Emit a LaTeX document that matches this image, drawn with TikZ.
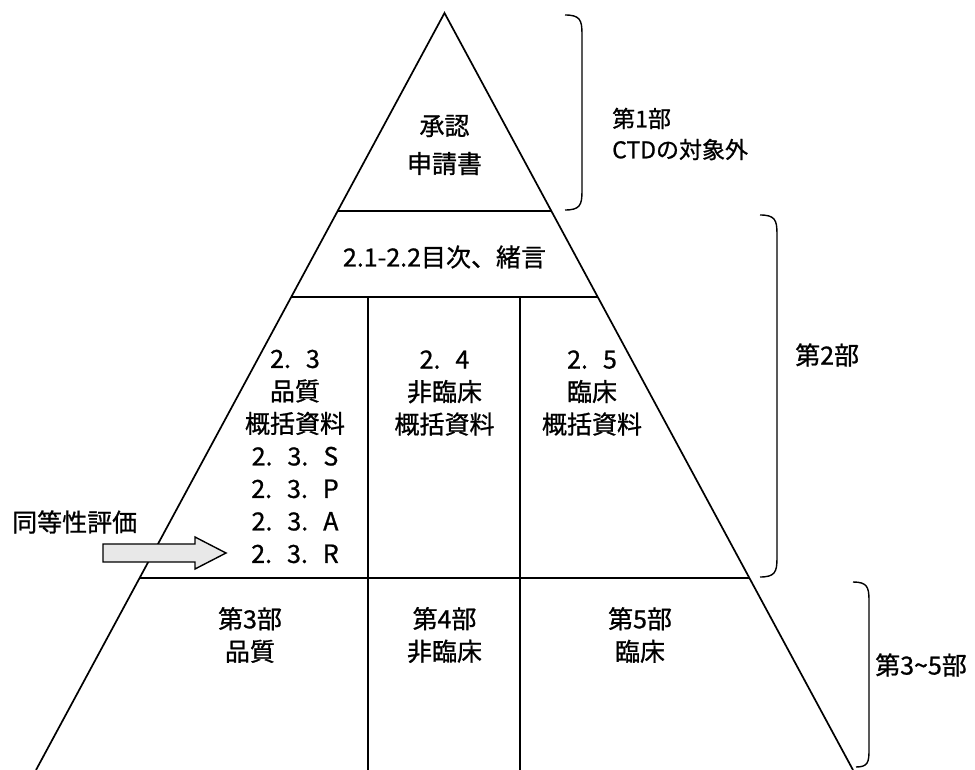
\documentclass[tikz,border=0pt]{standalone}
\usepackage{fontspec}
\setmainfont{Noto Sans CJK JP}[FakeBold=0.9]
\usetikzlibrary{calc}
\newcommand{\dgap}{\hspace{0.6em}}
\tikzset{
  edge/.style={line width=1.7pt, black},
  sep/.style={line width=1.7pt, black},
  brace/.style={line width=1.4pt, black},
  lbl/.style={inner sep=0pt, align=center, font=\fontsize{25}{32.5}\selectfont},
  lblL/.style={inner sep=0pt, align=left, font=\fontsize{25}{32.5}\selectfont},
  blockarrow/.style={line width=1.4pt, draw=black, fill=gray!18},
}
\begin{document}
\begin{tikzpicture}[x=1pt,y=-1pt]
\useasboundingbox (0,0) rectangle (975,770);
% triangle corners
\coordinate (apex) at (444.5,13);
\coordinate (bl) at (36,770);
\coordinate (br) at (853,770);
% horizontal dividers
\coordinate (h1l) at ($(apex)!0.2616!(bl)$);
\coordinate (h1r) at ($(apex)!0.2616!(br)$);
\coordinate (h2l) at ($(apex)!0.3752!(bl)$);
\coordinate (h2r) at ($(apex)!0.3752!(br)$);
\coordinate (h3l) at ($(apex)!0.7464!(bl)$);
\coordinate (h3r) at ($(apex)!0.7464!(br)$);
% vertical dividers
\coordinate (v1t) at (368,296.5);
\coordinate (v1b) at (368,770);
\coordinate (v2t) at (520,296.5);
\coordinate (v2b) at (520,770);
\draw[edge] (bl) -- (apex) -- (br);
\draw[sep] (h1l) -- (h1r);
\draw[sep] (h2l) -- (h2r);
\draw[sep] (h3l) -- (h3r);
\draw[sep] (v1t) -- (v1b);
\draw[sep] (v2t) -- (v2b);
% braces
\coordinate (b1s) at (565,15);
\coordinate (b1a) at (582,34);
\coordinate (b1b) at (582,191);
\coordinate (b1e) at (565,210);
\draw[brace] (b1s) .. controls +(15,0) and +(0,-14) .. (b1a) -- (b1b) .. controls +(0,14) and +(15,0) .. (b1e);
\coordinate (b2s) at (760,215);
\coordinate (b2a) at (777,234);
\coordinate (b2b) at (777,558);
\coordinate (b2e) at (760,577);
\draw[brace] (b2s) .. controls +(15,0) and +(0,-14) .. (b2a) -- (b2b) .. controls +(0,14) and +(15,0) .. (b2e);
\coordinate (b3s) at (853,582);
\coordinate (b3a) at (869,600);
\coordinate (b3b) at (869,750);
\coordinate (b3e) at (856,767);
\draw[brace] (b3s) .. controls +(14,0) and +(0,-13) .. (b3a) -- (b3b) .. controls +(0,12) and +(12,0) .. (b3e);
% texts
\node[lbl, font=\fontsize{25}{38}\selectfont] (top) at (444.5,145) {承認\\申請書};
\node[lblL, font=\fontsize{23}{31}\selectfont, anchor=west] (part1) at (612,134) {第1部\\CTDの対象外};
\node[lbl] (toc) at (444.5,257) {2.1-2.2目次、緒言};
\node[lbl] (c23) at (295,456.5) {2.\dgap3\\品質\\概括資料\\2.\dgap3.\dgap S\\2.\dgap3.\dgap P\\2.\dgap3.\dgap A\\2.\dgap3.\dgap R};
\node[lbl] (c24) at (444.5,393) {2.\dgap4\\非臨床\\概括資料};
\node[lbl] (c25) at (592,393) {2.\dgap5\\臨床\\概括資料};
\node[lblL, anchor=west] (part2) at (795,355) {第2部};
\node[lblL, anchor=west] (eq) at (12,522) {同等性評価};
\node[lbl] (p3) at (250,635) {第3部\\品質};
\node[lbl] (p4) at (444.5,635) {第4部\\非臨床};
\node[lbl] (p5) at (640,635) {第5部\\臨床};
\node[lblL, anchor=west] (part35) at (875,665) {第3\symbol{126}5部};
% block arrow
\coordinate (a1) at (103,544);
\coordinate (a2) at (195,544);
\coordinate (a3) at (195,537);
\coordinate (a4) at (226,553);
\coordinate (a5) at (195,569);
\coordinate (a6) at (195,562);
\coordinate (a7) at (103,562);
\draw[blockarrow] (a1) -- (a2) -- (a3) -- (a4) -- (a5) -- (a6) -- (a7) -- cycle;
\end{tikzpicture}
\end{document}
